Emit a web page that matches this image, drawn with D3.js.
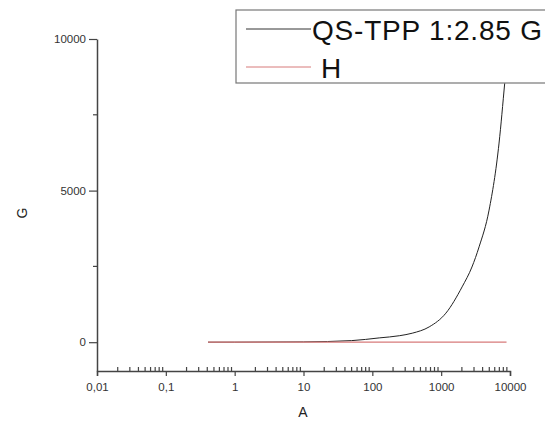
<!DOCTYPE html>
<html>
<head>
<meta charset="utf-8">
<script src="https://cdn.jsdelivr.net/npm/d3@7"></script>
<style>
  body { margin: 0; background: #fff; }
  svg { display: block; font-family: "Liberation Sans", Arial, sans-serif; }
</style>
</head>
<body>
<div id="chart"></div>
<script>
// data
var seriesA = [0.41, 1, 10, 50, 126, 250, 380, 670, 1170, 2015, 2800, 3556, 4966, 6935, 8375, 9600];
var seriesG = [0.4, 1, 10, 52, 142, 215, 297, 505, 957, 1825, 2480, 3145, 4356, 6568, 8538, 10000];
var hA = [0.41, 1, 10, 100, 1000, 8900];
var hG = [0, 0, 0, 0, 0, 0];
var xTicks = [0.01, 0.1, 1, 10, 100, 1000, 10000];
var yTicks = [0, 5000, 10000];
var yMinor = [2500, 7500];
var legendNames = ["QS-TPP 1:2.85 G", "H"];

var width = 545, height = 421;

var svg = d3.select("#chart")
  .append("svg")
    .attr("width", width)
    .attr("height", height);

var x = d3.scaleLog()
    .domain([0.01, 10000])
    .range([97, 510]);

var y = d3.scaleLinear()
    .domain([-950, 10000])
    .range([371, 39]);

// minor x ticks (2..9 in each decade)
var minor = [];
xTicks.slice(0, -1).forEach(function(d) {
  for (var k = 2; k <= 9; k++) minor.push(d * k);
});

var axisCol = "#444";

// x axis
var gx = svg.append("g")
    .attr("transform", "translate(0,371)")
    .call(d3.axisBottom(x).tickValues(xTicks).tickSize(5)
      .tickFormat(function(d) { return String(d).replace(".", ","); }));
gx.select(".domain").attr("stroke", axisCol).attr("stroke-width", 1.5);
gx.selectAll(".tick line").attr("stroke", axisCol).attr("stroke-width", 1.2);
gx.selectAll(".tick text").attr("y", 12).attr("font-size", 11.5)
    .attr("font-family", "Liberation Sans, Arial, sans-serif").attr("fill", "#333");

svg.append("g")
  .selectAll("line")
  .data(minor)
  .enter().append("line")
    .attr("x1", function(d) { return x(d); })
    .attr("x2", function(d) { return x(d); })
    .attr("y1", 371)
    .attr("y2", 367)
    .attr("stroke", axisCol)
    .attr("stroke-width", 1.2);

// y axis
var gy = svg.append("g")
    .attr("transform", "translate(97,0)")
    .call(d3.axisLeft(y).tickValues(yTicks).tickSize(8).tickSizeOuter(0)
      .tickFormat(d3.format("d")));
gy.select(".domain").attr("stroke", axisCol).attr("stroke-width", 1.5);
gy.selectAll(".tick line").attr("stroke", axisCol).attr("stroke-width", 1.2);
gy.selectAll(".tick text").attr("x", -11).attr("font-size", 11.5)
    .attr("font-family", "Liberation Sans, Arial, sans-serif").attr("fill", "#333");

svg.append("g")
  .selectAll("line")
  .data(yMinor)
  .enter().append("line")
    .attr("x1", 93)
    .attr("x2", 97)
    .attr("y1", function(d) { return y(d); })
    .attr("y2", function(d) { return y(d); })
    .attr("stroke", axisCol)
    .attr("stroke-width", 1.2);

// axis titles
svg.append("text")
    .attr("x", 303)
    .attr("y", 417)
    .attr("text-anchor", "middle")
    .attr("font-size", 14)
    .attr("fill", "#222")
    .text("A");
svg.append("text")
    .attr("transform", "translate(27,213) rotate(-90)")
    .attr("text-anchor", "middle")
    .attr("font-size", 14)
    .attr("fill", "#222")
    .text("G");

// lines
var line = d3.line()
    .x(function(d) { return x(d[0]); })
    .y(function(d) { return y(d[1]); })
    .curve(d3.curveMonotoneX);

svg.append("path")
    .datum(d3.zip(seriesA, seriesG))
    .attr("fill", "none")
    .attr("stroke", "#222")
    .attr("stroke-width", 1)
    .attr("d", line);

svg.append("path")
    .datum(d3.zip(hA, hG))
    .attr("fill", "none")
    .attr("stroke", "#d77a7a")
    .attr("stroke-width", 1.2)
    .attr("d", line);

// legend
var leg = svg.append("g");
leg.append("rect")
    .attr("x", 236)
    .attr("y", 10)
    .attr("width", 330)
    .attr("height", 73)
    .attr("fill", "#fff")
    .attr("stroke", "#777")
    .attr("stroke-width", 1.2);

var legCols = ["#333", "#d77a7a"];
legendNames.forEach(function(name, i) {
  var ly = 29 + i * 38;
  leg.append("line")
      .attr("x1", 246).attr("x2", 311)
      .attr("y1", ly).attr("y2", ly)
      .attr("stroke", legCols[i])
      .attr("stroke-width", 1);
  var t = leg.append("text")
      .attr("x", i === 0 ? 312 : 321)
      .attr("y", ly + 11)
      .attr("font-size", 28)
      .attr("fill", "#111")
      .text(name);
  if (i === 0) t.attr("textLength", 230).attr("lengthAdjust", "spacing");
});
</script>
</body>
</html>
